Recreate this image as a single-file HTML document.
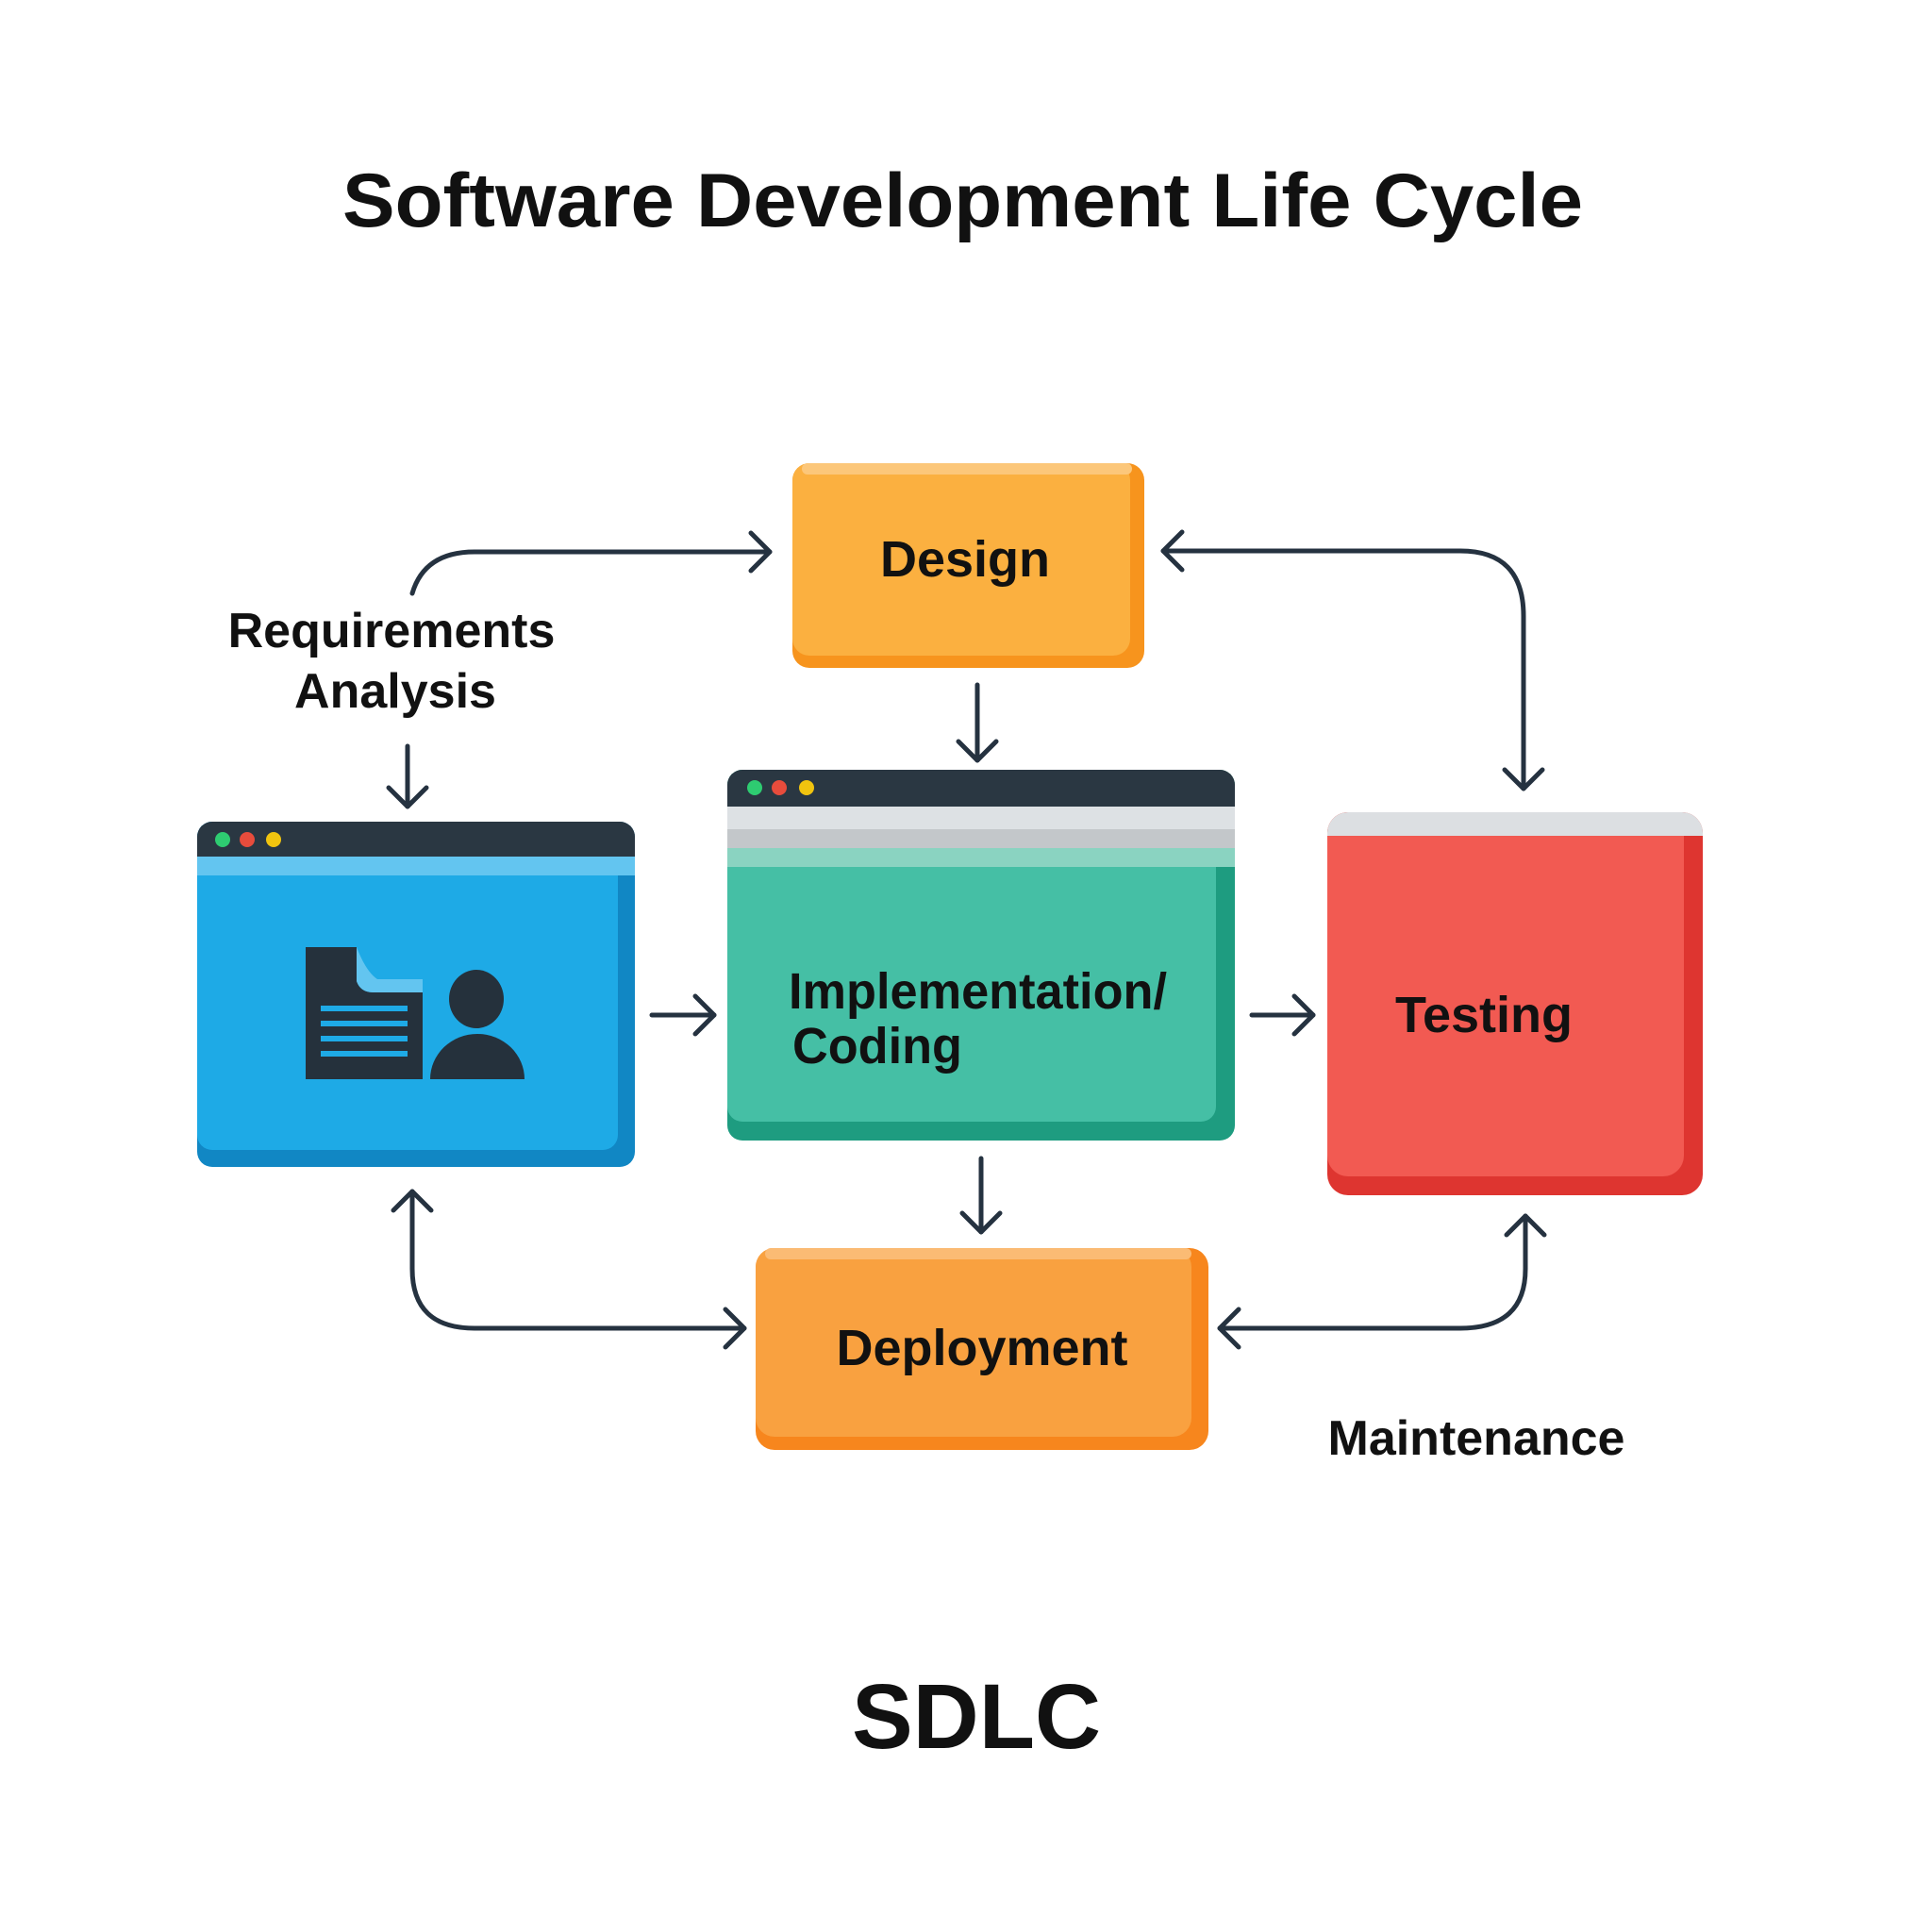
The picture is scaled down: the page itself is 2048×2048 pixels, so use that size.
<!DOCTYPE html>
<html><head><meta charset="utf-8"><style>html,body{margin:0;padding:0;background:#fff}svg{display:block}</style></head>
<body>
<svg width="2048" height="2048" viewBox="0 0 2048 2048" xmlns="http://www.w3.org/2000/svg" font-family="Liberation Sans, Arial, sans-serif" font-weight="bold">
<rect width="2048" height="2048" fill="#fff"/>
<text x="363" y="240" font-size="81" textLength="1315" lengthAdjust="spacingAndGlyphs" fill="#111">Software Development Life Cycle</text>

<!-- Design -->
<rect x="840" y="491" width="373" height="217" rx="18" fill="#F7941D"/>
<rect x="840" y="491" width="358" height="204" rx="18" fill="#FBB040"/>
<rect x="850" y="491" width="350" height="12" rx="6" fill="#FCC77A"/>
<text x="1023" y="611" font-size="54" text-anchor="middle" fill="#111">Design</text>

<!-- Blue window -->
<rect x="209" y="871" width="464" height="366" rx="16" fill="#1187C4"/>
<rect x="209" y="871" width="446" height="348" rx="16" fill="#1EAAE6"/>
<path d="M225 871 H657 A16 16 0 0 1 673 887 V908 H209 V887 A16 16 0 0 1 225 871Z" fill="#2A3742"/>
<rect x="209" y="908" width="464" height="20" fill="#63C5F0"/>
<circle cx="236" cy="890" r="8" fill="#2ECC71"/>
<circle cx="262" cy="890" r="8" fill="#E74C3C"/>
<circle cx="290" cy="890" r="8" fill="#F1C40F"/>
<path d="M324 1004 H378 V1040 Q382 1052 396 1052 H448 V1144 H324Z" fill="#25313C"/>
<path d="M378 1004 V1040 Q382 1052 396 1052 H448 V1038 H400 Q388 1030 378 1004Z" fill="#63C5F0"/>
<rect x="340" y="1066" width="92" height="6" fill="#1EAAE6"/>
<rect x="340" y="1082" width="92" height="6" fill="#1EAAE6"/>
<rect x="340" y="1098" width="92" height="6" fill="#1EAAE6"/>
<rect x="340" y="1114" width="92" height="6" fill="#1EAAE6"/>
<ellipse cx="505" cy="1059" rx="29" ry="31" fill="#25313C"/>
<path d="M456 1144 A50 48 0 0 1 556 1144Z" fill="#25313C"/>

<!-- Green window -->
<rect x="771" y="816" width="538" height="393" rx="16" fill="#1E9C80"/>
<rect x="771" y="816" width="518" height="373" rx="16" fill="#45BFA5"/>
<path d="M787 816 H1293 A16 16 0 0 1 1309 832 V855 H771 V832 A16 16 0 0 1 787 816Z" fill="#2A3742"/>
<rect x="771" y="855" width="538" height="24" fill="#DDE1E4"/>
<rect x="771" y="879" width="538" height="20" fill="#C3C7CA"/>
<rect x="771" y="899" width="538" height="20" fill="#8AD3C1"/>
<circle cx="800" cy="835" r="8" fill="#2ECC71"/>
<circle cx="826" cy="835" r="8" fill="#E74C3C"/>
<circle cx="855" cy="835" r="8" fill="#F1C40F"/>
<text x="836" y="1069" font-size="54" textLength="401" lengthAdjust="spacingAndGlyphs" fill="#111">Implementation/</text>
<text x="840" y="1127" font-size="54" textLength="180" lengthAdjust="spacingAndGlyphs" fill="#111">Coding</text>

<!-- Red -->
<rect x="1407" y="861" width="398" height="406" rx="22" fill="#DE3530"/>
<rect x="1407" y="861" width="378" height="386" rx="22" fill="#F25A52"/>
<path d="M1429 861 H1783 A22 22 0 0 1 1805 883 V886 H1407 V883 A22 22 0 0 1 1429 861Z" fill="#DCDFE2"/>
<text x="1573" y="1094" font-size="54" text-anchor="middle" fill="#111">Testing</text>

<!-- Deployment -->
<rect x="801" y="1323" width="480" height="214" rx="20" fill="#F7861D"/>
<rect x="801" y="1323" width="462" height="200" rx="20" fill="#F9A140"/>
<rect x="811" y="1323" width="452" height="12" rx="6" fill="#FBBB74"/>
<text x="1041" y="1447" font-size="54" text-anchor="middle" fill="#111">Deployment</text>

<text x="415" y="686" font-size="52" text-anchor="middle" fill="#111">Requirements</text>
<text x="419" y="750" font-size="52" text-anchor="middle" fill="#111">Analysis</text>
<text x="1565" y="1542" font-size="52" text-anchor="middle" fill="#111">Maintenance</text>
<text x="1035" y="1853" font-size="97" text-anchor="middle" fill="#111">SDLC</text>

<g fill="none" stroke="#253240" stroke-width="5" stroke-linecap="round" stroke-linejoin="round">
<path d="M437 629 Q450 585 503 585 H816"/><path d="M796 565 L816 585 L796 605"/>
<path d="M1233 584 H1548 Q1615 584 1615 653 V836"/><path d="M1253 564 L1233 584 L1253 604"/><path d="M1595 816 L1615 836 L1635 816"/>
<path d="M1036 726 V806"/><path d="M1016 786 L1036 806 L1056 786"/>
<path d="M432 791 V855"/><path d="M412 835 L432 855 L452 835"/>
<path d="M691 1076 H757"/><path d="M737 1056 L757 1076 L737 1096"/>
<path d="M1327 1076 H1392"/><path d="M1372 1056 L1392 1076 L1372 1096"/>
<path d="M1040 1228 V1306"/><path d="M1020 1286 L1040 1306 L1060 1286"/>
<path d="M437 1263 V1345 Q437 1408 503 1408 H789"/><path d="M417 1283 L437 1263 L457 1283"/><path d="M769 1388 L789 1408 L769 1428"/>
<path d="M1617 1289 V1345 Q1617 1408 1548 1408 H1293"/><path d="M1597 1309 L1617 1289 L1637 1309"/><path d="M1313 1388 L1293 1408 L1313 1428"/>
</g>
</svg>
</body></html>
